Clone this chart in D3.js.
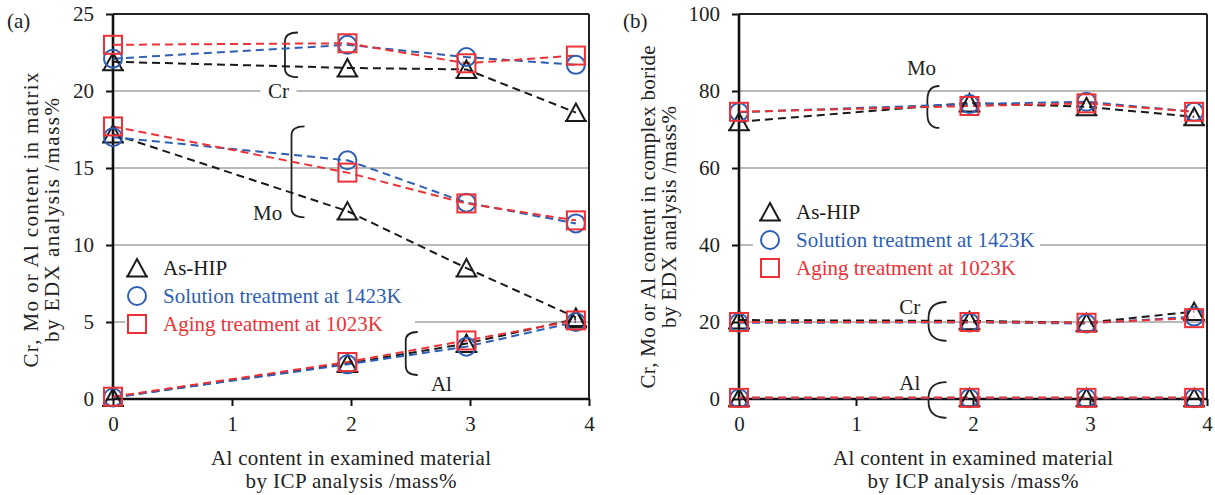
<!DOCTYPE html>
<html>
<head>
<meta charset="utf-8">
<script src="https://cdn.jsdelivr.net/npm/d3@7"></script>
<style>
  body { margin: 0; background: #fff; }
  svg text { font-family: 'Liberation Serif', Tinos, 'Times New Roman', 'DejaVu Serif', serif; }
</style>
</head>
<body>
<svg width="1215" height="495"></svg>
<script>
// Al content in examined material (ICP), mass%
const alContent = [0, 1.97, 2.97, 3.89];
const xTicks = [0, 1, 2, 3, 4];
const seriesNames = ['As-HIP', 'Solution treatment at 1423K', 'Aging treatment at 1023K'];

// (a) matrix
const matrixTicks = [0, 5, 10, 15, 20, 25];
const matrixCrHIP = [21.9, 21.5, 21.4, 18.6];
const matrixCrSol = [22.1, 23.0, 22.2, 21.7];
const matrixCrAge = [23.0, 23.1, 21.8, 22.3];
const matrixMoHIP = [17.2, 12.2, 8.5, 5.3];
const matrixMoSol = [17.0, 15.5, 12.75, 11.4];
const matrixMoAge = [17.7, 14.7, 12.7, 11.6];
const matrixAlHIP = [0.1, 2.3, 3.6, 5.2];
const matrixAlSol = [0.1, 2.25, 3.4, 5.0];
const matrixAlAge = [0.15, 2.4, 3.8, 5.1];

// (b) complex boride
const borideTicks = [0, 20, 40, 60, 80, 100];
const borideMoHIP = [72.0, 76.9, 75.9, 73.3];
const borideMoSol = [74.5, 76.6, 77.2, 74.6];
const borideMoAge = [74.6, 76.1, 76.8, 74.6];
const borideCrHIP = [20.5, 20.3, 19.8, 22.7];
const borideCrSol = [19.8, 19.9, 19.6, 21.4];
const borideCrAge = [20.0, 20.0, 19.8, 21.0];
const borideAlHIP = [0.3, 0.3, 0.3, 0.3];
const borideAlSol = [0.2, 0.2, 0.2, 0.2];
const borideAlAge = [0.3, 0.3, 0.3, 0.3];

const colors = ['#1a1a1a', '#2f5fb3', '#ec3237'];
const serif = "'Liberation Serif', Tinos, 'Times New Roman', 'DejaVu Serif', serif";

const svg = d3.select('svg');

function drawPanel(cfg) {
    const x = d3.scaleLinear().domain([0, 4]).range([cfg.left, cfg.right]);
    const y = d3.scaleLinear().domain([0, cfg.yMax]).range([399, 14]);
    const g = svg.append('g');

    // grid
    g.selectAll('.grid')
        .data(cfg.ticks.filter(t => t > 0 && t < cfg.yMax))
        .join('line')
        .attr('x1', cfg.left).attr('x2', cfg.right)
        .attr('y1', d => y(d)).attr('y2', d => y(d))
        .attr('stroke', '#a3a3a3').attr('stroke-width', 1.6);

    // white boxes that break the grid
    cfg.boxes.forEach(b => {
        g.append('rect').attr('x', b[0]).attr('y', b[1]).attr('width', b[2]).attr('height', b[3]).attr('fill', '#fff');
    });

    // frame
    g.append('line').attr('x1', cfg.left).attr('x2', cfg.right).attr('y1', y(cfg.yMax)).attr('y2', y(cfg.yMax))
        .attr('stroke', '#222').attr('stroke-width', 2);
    g.append('line').attr('x1', cfg.right).attr('x2', cfg.right).attr('y1', y(cfg.yMax)).attr('y2', y(0))
        .attr('stroke', '#222').attr('stroke-width', 2);

    const xAxis = g.append('g').attr('transform', `translate(0,${y(0)})`)
        .call(d3.axisBottom(x).tickValues(xTicks).tickSize(7).tickPadding(10).tickFormat(d3.format('d')));
    const yAxis = g.append('g').attr('transform', `translate(${cfg.left},0)`)
        .call(d3.axisLeft(y).tickValues(cfg.ticks).tickSize(7).tickPadding(12).tickFormat(d3.format('d')));
    [xAxis, yAxis].forEach(a => {
        a.attr('font-family', serif);
        a.select('.domain').attr('stroke', '#111').attr('stroke-width', 2.6);
        a.selectAll('.tick line').attr('stroke', '#111').attr('stroke-width', 2);
        a.selectAll('.tick text').attr('font-size', 21).attr('fill', '#222');
    });
    yAxis.select('.domain').attr('d', `M0,${y(0)}V${y(cfg.yMax)}`);
    xAxis.select('.domain').attr('d', `M${cfg.left},0H${cfg.right}`);

    // annotations
    cfg.notes.forEach(n => {
        if (n.box) {
            g.append('rect').attr('x', x(n.x) - 18).attr('y', y(n.y) - 12).attr('width', 36).attr('height', 24).attr('fill', '#fff');
        }
        g.append('text').attr('x', x(n.x)).attr('y', y(n.y)).attr('dy', '0.35em')
            .attr('text-anchor', 'middle').attr('font-size', 21).attr('fill', '#222').text(n.label);
    });
    cfg.braces.forEach(b => {
        const bx = x(b.x), t = y(b.y0), bt = y(b.y1), w = b.w, r = b.r;
        g.append('path')
            .attr('d', `M${bx + w},${t} Q${bx},${t} ${bx},${t + r} L${bx},${bt - r} Q${bx},${bt} ${bx + w},${bt}`)
            .attr('fill', 'none').attr('stroke', '#222').attr('stroke-width', 1.8);
    });

    // lines
    const line = d3.line().x((d, i) => x(alContent[i])).y(d => y(d));
    cfg.series.forEach(group => {
        group.forEach((vals, s) => {
            g.append('path').attr('d', line(vals)).attr('fill', 'none')
                .attr('stroke', colors[s]).attr('stroke-width', 2).attr('stroke-dasharray', '8,5');
        });
    });

    // markers
    [0, 1, 2].forEach(s => {
        cfg.series.forEach(group => {
            const mk = g.selectAll(null).data(group[s]).join('g')
                .attr('transform', (d, i) => `translate(${x(alContent[i])},${y(d)})`);
            drawMarker(mk, s);
        });
    });

    // legend
    const lg = g.append('g').attr('transform', `translate(${cfg.legend[0]},${cfg.legend[1]})`);
    const items = lg.selectAll('g').data(seriesNames).join('g')
        .attr('transform', (d, i) => `translate(0,${i * 28})`);
    items.each(function (d, i) { drawMarker(d3.select(this), i); });
    items.append('text').attr('x', 26).attr('dy', '0.35em').attr('font-size', 21)
        .attr('fill', (d, i) => colors[i]).text(d => d);

    // axis titles
    const cx = (cfg.left + cfg.right) / 2;
    g.append('text').attr('text-anchor', 'middle').attr('font-size', 21).attr('fill', '#222')
        .attr('x', cx).attr('y', 465).attr('textLength', 280).attr('lengthAdjust', 'spacing')
        .text('Al content in examined material');
    g.append('text').attr('text-anchor', 'middle').attr('font-size', 21).attr('fill', '#222')
        .attr('x', cx).attr('y', 488).attr('textLength', 211).attr('lengthAdjust', 'spacing')
        .text('by ICP analysis /mass%');
    const yt = g.append('g').attr('transform', `translate(${cfg.titleX},${cfg.titleY}) rotate(-90)`);
    yt.append('text').attr('text-anchor', 'middle').attr('font-size', 21).attr('fill', '#222')
        .attr('x', 0).attr('y', 0).attr('textLength', cfg.titleLen[0]).attr('lengthAdjust', 'spacing')
        .text(cfg.yTitle);
    yt.append('text').attr('text-anchor', 'middle').attr('font-size', 21).attr('fill', '#222')
        .attr('x', 0).attr('y', 21).attr('textLength', cfg.titleLen[1]).attr('lengthAdjust', 'spacing')
        .text('by EDX analysis /mass%');

    svg.append('text').attr('x', cfg.tag[0]).attr('y', cfg.tag[1]).attr('font-size', 21).attr('fill', '#222').text(cfg.tagText);
}

function drawMarker(sel, s) {
    if (s === 0) {
        sel.append('path').attr('d', 'M0,-9L9.5,8.5L-9.5,8.5Z M-11,8.5H11').attr('fill', 'none')
            .attr('stroke', colors[0]).attr('stroke-width', 2);
    } else if (s === 1) {
        sel.append('circle').attr('r', 9).attr('fill', 'none').attr('stroke', colors[1]).attr('stroke-width', 2);
    } else {
        sel.append('rect').attr('x', -9).attr('y', -9).attr('width', 18).attr('height', 18)
            .attr('fill', 'none').attr('stroke', colors[2]).attr('stroke-width', 2);
    }
}

drawPanel({
    left: 113, right: 589, yMax: 25, ticks: matrixTicks,
    series: [
        [matrixCrHIP, matrixCrSol, matrixCrAge],
        [matrixMoHIP, matrixMoSol, matrixMoAge],
        [matrixAlHIP, matrixAlSol, matrixAlAge]
    ],
    boxes: [[125, 252, 290, 84]],
    notes: [{ x: 1.39, y: 20, label: 'Cr', box: true }, { x: 1.30, y: 12.1, label: 'Mo' }, { x: 2.76, y: 1.0, label: 'Al' }],
    braces: [
        { x: 1.445, y0: 23.8, y1: 20.9, w: 13, r: 9 },
        { x: 1.50, y0: 17.7, y1: 11.8, w: 13, r: 9 },
        { x: 2.46, y0: 4.35, y1: 1.56, w: 12, r: 9 }
    ],
    legend: [137, 268],
    titleX: 38, titleY: 220, titleLen: [295, 244],
    yTitle: 'Cr, Mo or Al content in matrix',
    tag: [7, 28], tagText: '(a)'
});

drawPanel({
    left: 739, right: 1207, yMax: 100, ticks: borideTicks,
    series: [
        [borideMoHIP, borideMoSol, borideMoAge],
        [borideCrHIP, borideCrSol, borideCrAge],
        [borideAlHIP, borideAlSol, borideAlAge]
    ],
    boxes: [[753, 198, 287, 84]],
    notes: [{ x: 1.56, y: 86, label: 'Mo' }, { x: 1.46, y: 23.9, label: 'Cr' }, { x: 1.46, y: 4.2, label: 'Al' }],
    braces: [
        { x: 1.61, y0: 81.3, y1: 70.4, w: 12, r: 14 },
        { x: 1.62, y0: 25.2, y1: 15.1, w: 18, r: 16 },
        { x: 1.62, y0: 4.4, y1: -4.9, w: 18, r: 16 }
    ],
    legend: [770, 212],
    titleX: 655, titleY: 217, titleLen: [343, 222],
    yTitle: 'Cr, Mo or Al content in complex boride',
    tag: [623, 28], tagText: '(b)'
});
</script>
</body>
</html>
